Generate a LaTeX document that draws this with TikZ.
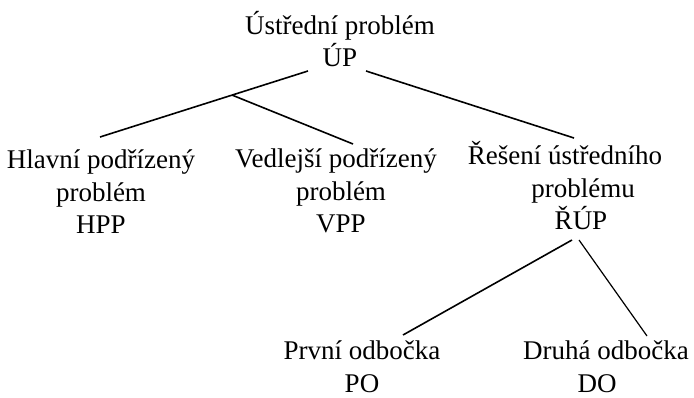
\documentclass[tikz,border=0pt]{standalone}
\usepackage{fontspec}
\setmainfont{Liberation Serif}
\usetikzlibrary{calc}
\begin{document}
\begin{tikzpicture}[x=1pt,y=-1pt,
  lbl/.style={inner sep=0pt, anchor=base, align=center,
    font=\fontsize{27}{32.5}\selectfont},
  conn/.style={line width=1.6pt}]
\useasboundingbox (0,0) rectangle (694,398);
\node[lbl] (top) at (340,67) {Ústřední problém\\ÚP};
\node[lbl] (hpp) at (101,234) {Hlavní podřízený\\problém\hspace*{12pt}\\HPP};
\node[lbl] (vpp) at (336,233) {Vedlejší podřízený\\\hspace*{10pt}problém\\\hspace*{10pt}VPP};
\node[lbl] (rup) at (565,230) {Řešení ústředního\\\hspace*{36pt}problému\\\hspace*{32pt}ŘÚP};
\node[lbl] (po) at (362,392) {První odbočka\\PO};
\node[lbl] (do) at (606,392) {Druhá odbočka\\DO\hspace*{18pt}};
\draw[conn] ($(top.base)+(-32,4)$) -- coordinate[pos=0.365] (br) ($(hpp.base)+(-1,-97)$);
\draw[conn] (br) -- ($(vpp.base)+(17,-89)$);
\draw[conn] ($(top.base)+(26,4)$) -- ($(rup.base)+(9,-92)$);
\draw[conn] ($(rup.base)+(7,10)$) -- ($(po.base)+(41,-57)$);
\draw[conn, line width=1.2pt] ($(rup.base)+(14,10)$) -- ($(do.base)+(41,-56)$);
\end{tikzpicture}
\end{document}
